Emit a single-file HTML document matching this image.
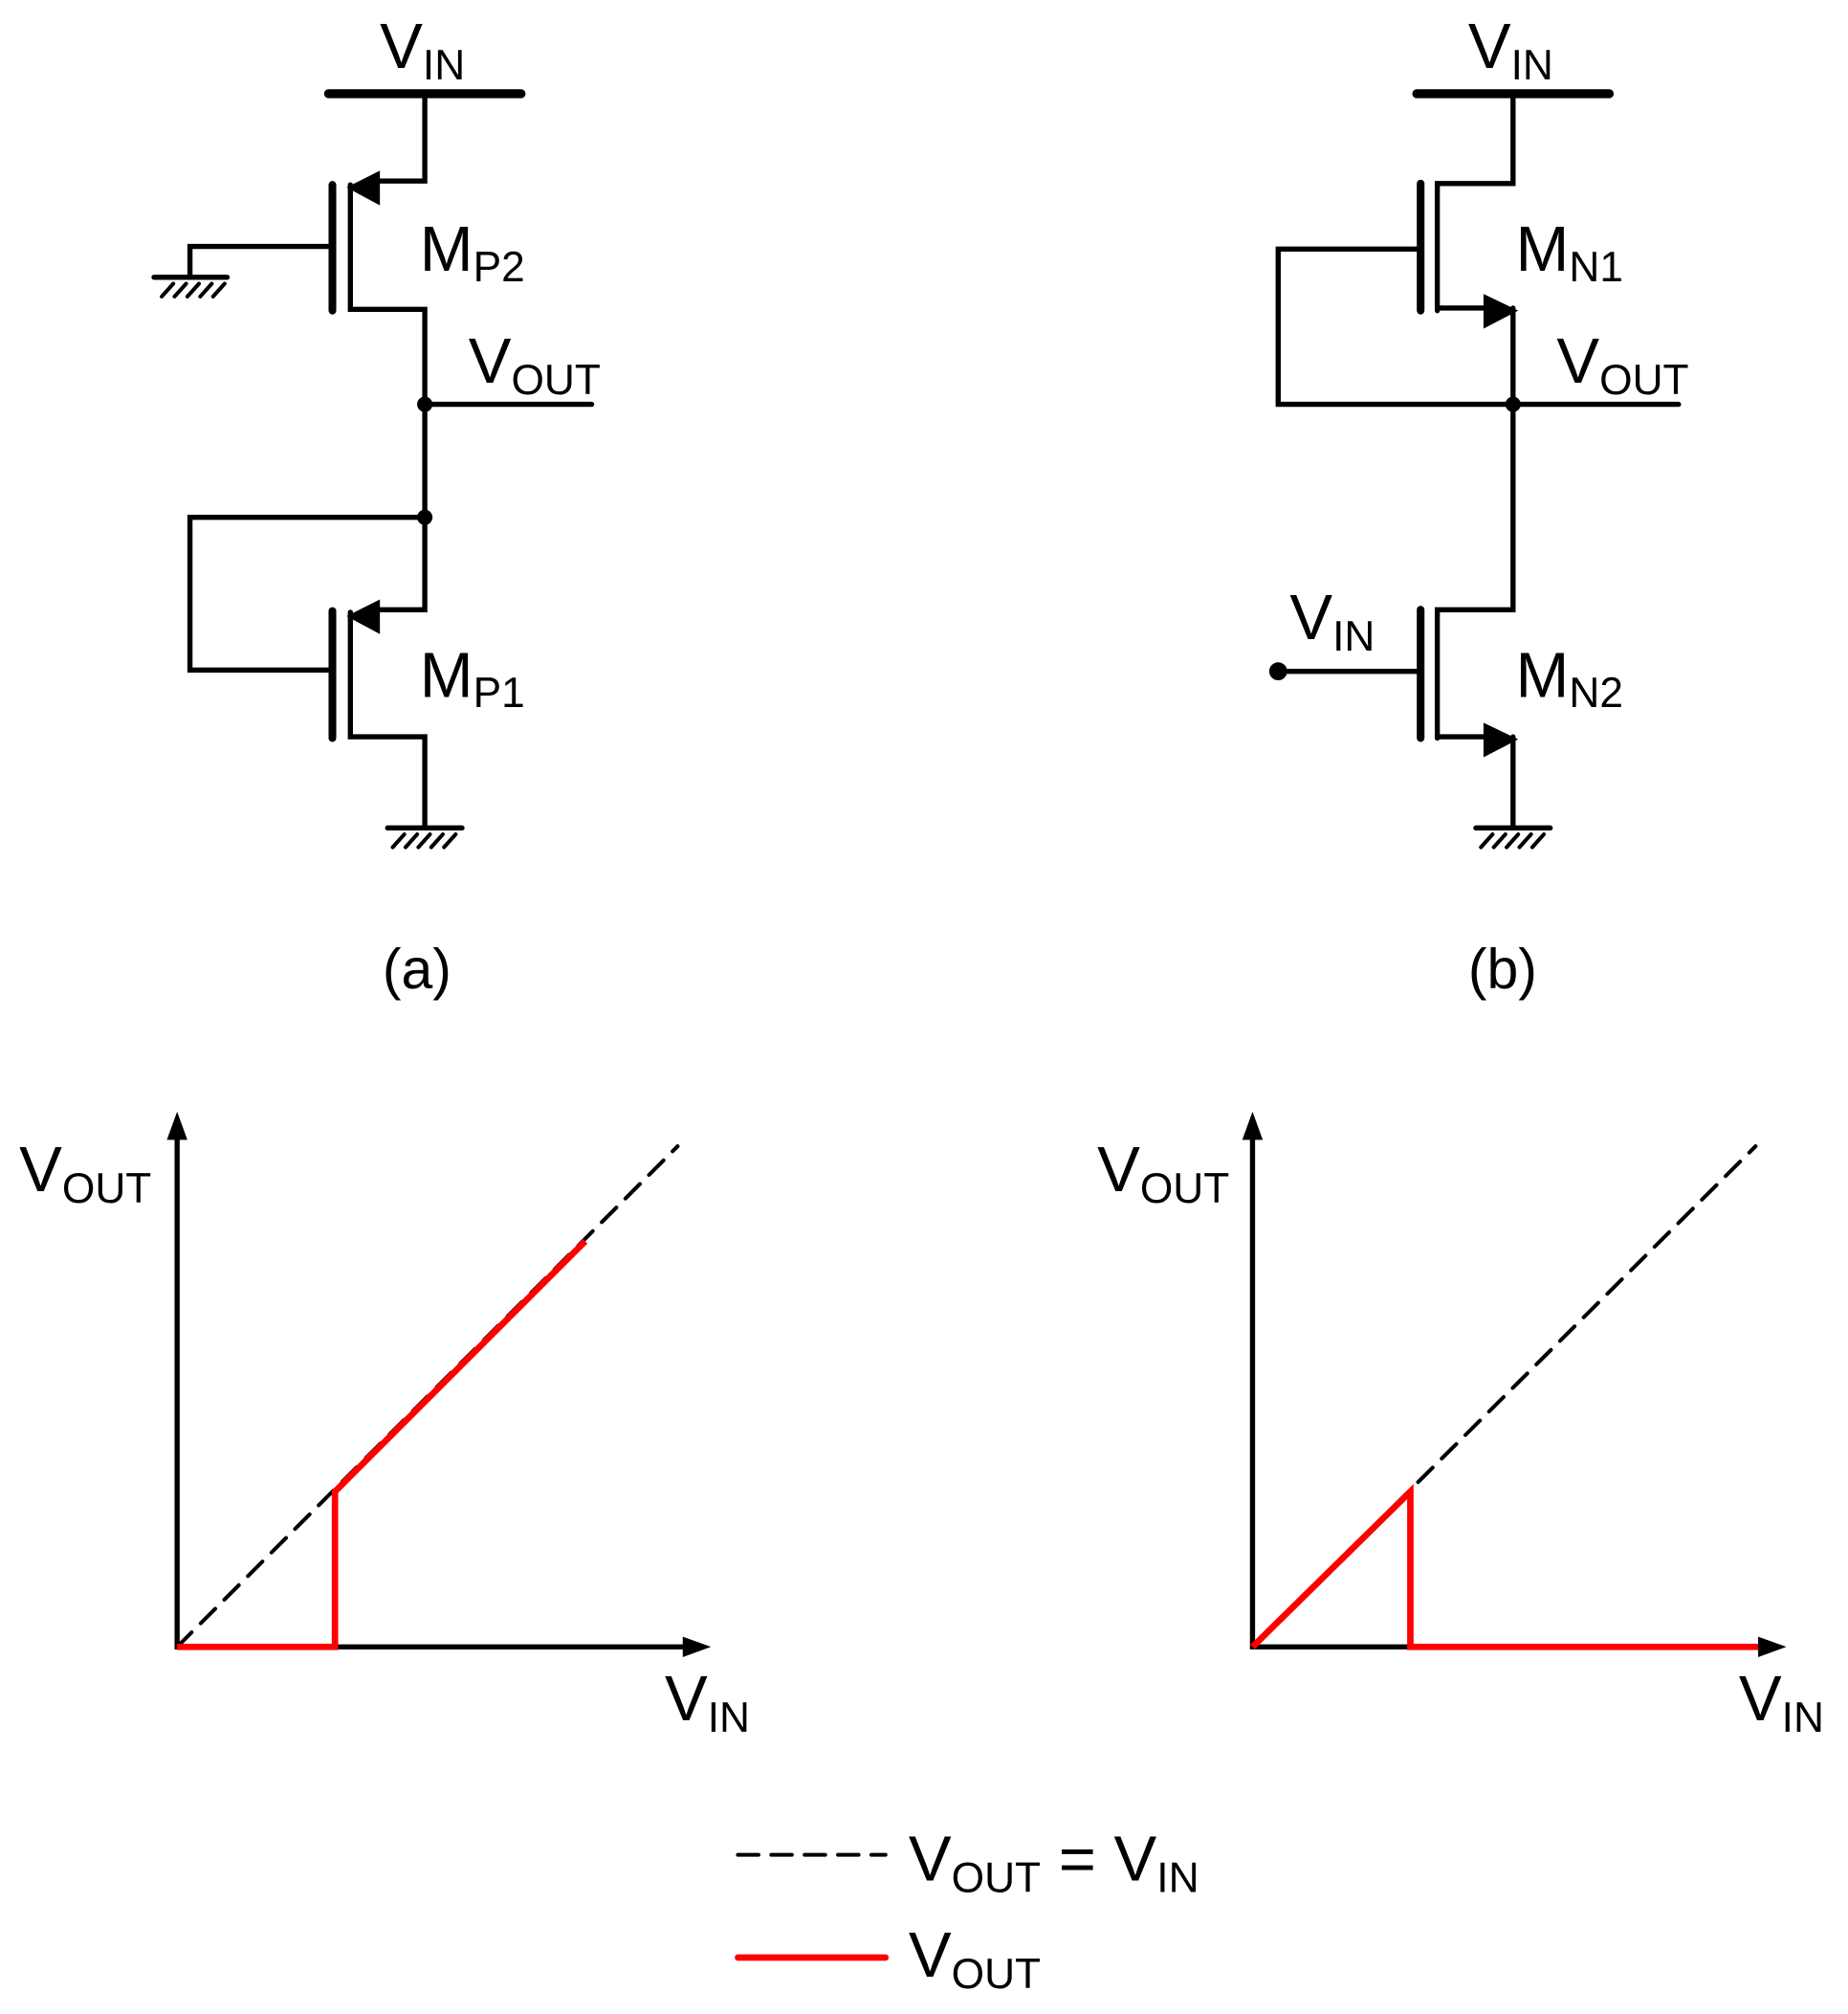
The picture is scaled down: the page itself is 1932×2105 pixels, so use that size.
<!DOCTYPE html>
<html><head><style>html,body{margin:0;padding:0;background:#fff}svg{display:block}text{font-family:"Liberation Sans",sans-serif;fill:#000}</style></head>
<body>
<svg width="1932" height="2105" viewBox="0 0 1440 1569" xmlns="http://www.w3.org/2000/svg">
<g stroke="#000" stroke-width="4" fill="none" stroke-linecap="round" stroke-linejoin="miter">
<line x1="256" y1="73" x2="406" y2="73" stroke-width="7"/>
<polyline points="331,73 331,141 292,141"/>
<line x1="259" y1="144" x2="259" y2="242" stroke-width="6"/>
<polyline points="273,144 273,241 331,241 331,403"/>
<polyline points="120,216 177,216"/>
<polyline points="148,216 148,192 259,192"/>
<g stroke-width="3"><line x1="126" y1="231" x2="135" y2="221"/><line x1="136" y1="231" x2="145" y2="221"/><line x1="146" y1="231" x2="155" y2="221"/><line x1="156" y1="231" x2="165" y2="221"/><line x1="166" y1="231" x2="175" y2="221"/></g>
<line x1="331" y1="315" x2="461" y2="315"/>
<polyline points="331,403 148,403 148,522 259,522"/>
<polyline points="331,403 331,475 292,475"/>
<line x1="259" y1="476" x2="259" y2="575" stroke-width="6"/>
<polyline points="273,477 273,574 331,574 331,645"/>
<line x1="302" y1="645" x2="360" y2="645"/>
<g stroke-width="3"><line x1="306" y1="660" x2="315" y2="650"/><line x1="316" y1="660" x2="325" y2="650"/><line x1="326" y1="660" x2="335" y2="650"/><line x1="336" y1="660" x2="345" y2="650"/><line x1="346" y1="660" x2="355" y2="650"/></g>
<line x1="1104" y1="73" x2="1254" y2="73" stroke-width="7"/>
<polyline points="1179,73 1179,143 1120,143 1120,242"/>
<line x1="1107" y1="143" x2="1107" y2="242" stroke-width="6"/>
<polyline points="1120,240 1160,240"/>
<polyline points="1179,240 1179,475 1120,475 1120,575"/>
<polyline points="1107,194 996,194 996,315 1308,315"/>
<line x1="1107" y1="475" x2="1107" y2="575" stroke-width="6"/>
<line x1="1120" y1="574" x2="1160" y2="574"/>
<line x1="1179" y1="574" x2="1179" y2="645"/>
<line x1="996" y1="523" x2="1107" y2="523"/>
<line x1="1150" y1="645" x2="1208" y2="645"/>
<g stroke-width="3"><line x1="1154" y1="660" x2="1163" y2="650"/><line x1="1164" y1="660" x2="1173" y2="650"/><line x1="1174" y1="660" x2="1183" y2="650"/><line x1="1184" y1="660" x2="1193" y2="650"/><line x1="1194" y1="660" x2="1203" y2="650"/></g>
<polyline points="138,885 138,1283 540,1283"/>
<polyline points="976,885 976,1283 1378,1283"/>
<line x1="138" y1="1283" x2="528" y2="893" stroke-dasharray="16,10" stroke-width="3"/>
<line x1="976" y1="1283" x2="1368" y2="893" stroke-dasharray="16,10" stroke-width="3"/>
<polyline points="138,1283 261,1283 261,1162 456,967" stroke="#f00" stroke-width="5" stroke-linecap="butt"/>
<polyline points="976,1283 1099,1162 1099,1283 1370,1283" stroke="#f00" stroke-width="5" stroke-linecap="butt"/>
<line x1="575" y1="1445" x2="690" y2="1445" stroke-dasharray="16,10" stroke-width="3"/>
<line x1="575" y1="1525" x2="690" y2="1525" stroke="#f00" stroke-width="5"/>
</g>
<g fill="#000">
<polygon points="270,146 296,133 296,160"/>
<polygon points="270,480 296,467 296,494"/>
<polygon points="1183,242 1156,229 1156,256"/>
<polygon points="1183,576 1156,563 1156,590"/>
<circle cx="331" cy="315" r="6"/><circle cx="331" cy="403" r="6"/>
<circle cx="1179" cy="315" r="6"/><circle cx="996" cy="523" r="7"/>
<polygon points="138,866 130,888 146,888"/><polygon points="554,1283 532,1275 532,1291"/>
<polygon points="976,866 968,888 984,888"/><polygon points="1392,1283 1370,1275 1370,1291"/>
</g>
<g font-size="50">
<text x="296" y="53">V<tspan font-size="33" dy="9">IN</tspan></text>
<text x="1144" y="53">V<tspan font-size="33" dy="9">IN</tspan></text>
<text x="327" y="211">M<tspan font-size="33" dy="8">P2</tspan></text>
<text x="327" y="543">M<tspan font-size="33" dy="8">P1</tspan></text>
<text x="1181" y="211">M<tspan font-size="33" dy="8">N1</tspan></text>
<text x="1181" y="543">M<tspan font-size="33" dy="8">N2</tspan></text>
<text x="365" y="298">V<tspan font-size="33" dy="9">OUT</tspan></text>
<text x="1213" y="298">V<tspan font-size="33" dy="9">OUT</tspan></text>
<text x="1005" y="498">V<tspan font-size="33" dy="9">IN</tspan></text>
<text x="298" y="770" font-size="44">(a)</text>
<text x="1144" y="770" font-size="44">(b)</text>
<text x="15" y="928">V<tspan font-size="33" dy="9">OUT</tspan></text>
<text x="855" y="928">V<tspan font-size="33" dy="9">OUT</tspan></text>
<text x="518" y="1340">V<tspan font-size="33" dy="9">IN</tspan></text>
<text x="1355" y="1340">V<tspan font-size="33" dy="9">IN</tspan></text>
<text x="708" y="1465">V<tspan font-size="33" dy="9">OUT</tspan><tspan dy="-9"> = V</tspan><tspan font-size="33" dy="9">IN</tspan></text>
<text x="708" y="1540">V<tspan font-size="33" dy="9">OUT</tspan></text>
</g>
</svg>
</body></html>
